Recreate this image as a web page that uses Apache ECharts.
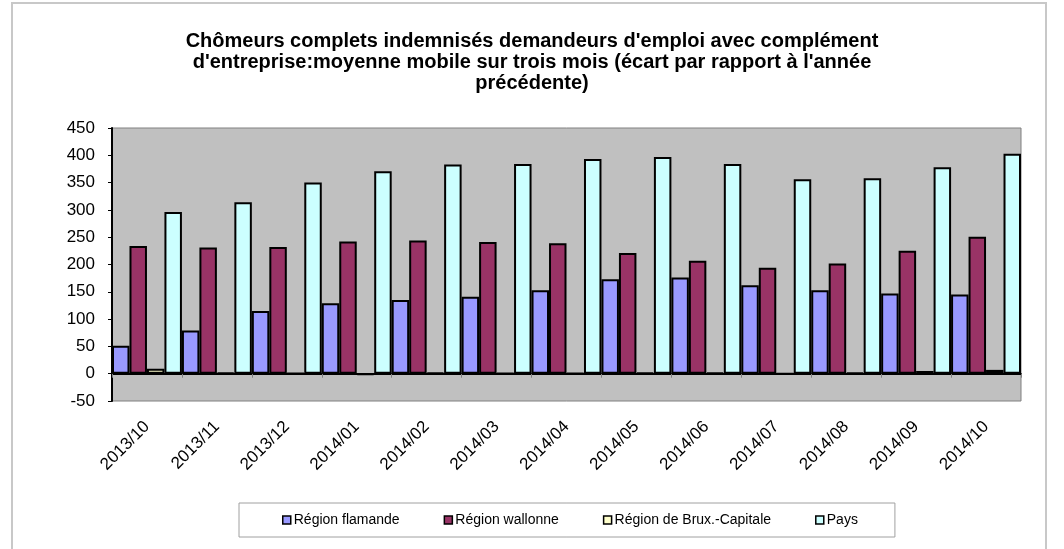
<!DOCTYPE html>
<html>
<head>
<meta charset="utf-8">
<script src="https://cdn.jsdelivr.net/npm/echarts@6/dist/echarts.min.js"></script>
<style>
  html, body { margin: 0; padding: 0; background: #fff; }
  #Chart { width: 1064px; height: 549px; }
</style>
</head>
<body>
<div id="Chart"></div>
<script>
// mois (axe horizontal)
const months = ['2013/10', '2013/11', '2013/12', '2014/01', '2014/02', '2014/03', '2014/04',
                '2014/05', '2014/06', '2014/07', '2014/08', '2014/09', '2014/10'];
// écart par rapport à l'année précédente
const flamande = [51, 79, 115, 129, 135, 141, 153, 173, 176, 162, 153, 147, 145];
const wallonne = [234, 231, 232, 242, 244, 241, 239, 221, 207, 194, 202, 225, 251];
const bruxelles = [9, 2, 1, -2, 2, 1, 1, 2, 2, -0.5, 2, 5, 7];
const pays = [296, 314, 350, 371, 383, 384, 393, 397, 384, 356, 358, 378, 403];
const seriesNames = ['Région flamande', 'Région wallonne', 'Région de Brux.-Capitale', 'Pays'];
const seriesColors = ['#9999FF', '#993366', '#FFFFCC', '#CCFFFF'];

const titleText = "Chômeurs complets indemnisés demandeurs d'emploi avec complément\n" +
                  "d'entreprise:moyenne mobile sur trois mois (écart par rapport à l'année\n" +
                  "précédente)";

let myChart = echarts.init(document.getElementById('Chart'));

function barSeries(i, data) {
    return {
        name: seriesNames[i],
        type: 'bar',
        xAxisIndex: 1,
        data: data,
        barGap: '0%',
        barCategoryGap: '0%',
        itemStyle: {
            color: seriesColors[i],
            borderColor: '#000',
            borderWidth: 2
        }
    };
}

myChart.setOption({
    animation: false,
    textStyle: { fontFamily: 'Liberation Sans, Arial, sans-serif' },
    graphic: [{
        type: 'rect',
        shape: { x: 12, y: 3, width: 1034, height: 600 },
        style: { fill: 'none', stroke: '#c8c8c8', lineWidth: 2 },
        silent: true
    }],
    title: {
        text: titleText,
        left: 'center',
        top: 26,
        textStyle: {
            fontSize: 20,
            fontWeight: 'bold',
            color: '#000',
            lineHeight: 21
        }
    },
    legend: {
        data: seriesNames,
        left: 239,
        top: 503,
        padding: [10, 37, 10, 43],
        itemGap: 44,
        itemWidth: 8,
        itemHeight: 8,
        icon: 'rect',
        borderColor: '#a0a0a0',
        borderWidth: 1,
        itemStyle: { borderColor: '#000', borderWidth: 1.5 },
        textStyle: { fontSize: 14, color: '#000', padding: [0, 0, 0, -2] }
    },
    grid: {
        left: 112,
        right: 43,
        top: 128,
        bottom: 148,
        show: true,
        backgroundColor: '#C0C0C0',
        borderColor: '#808080',
        borderWidth: 1
    },
    xAxis: [
        {
            // étiquettes en bas du graphique
            type: 'category',
            data: months,
            position: 'bottom',
            axisLine: { show: false, onZero: false },
            axisTick: { show: false },
            axisLabel: {
                rotate: 45,
                margin: 23,
                fontSize: 17,
                color: '#000'
            }
        },
        {
            // ligne du zéro
            type: 'category',
            data: months,
            position: 'bottom',
            axisLine: { show: true, onZero: true, lineStyle: { color: '#000', width: 2 } },
            axisTick: { show: true, length: 4, lineStyle: { color: '#808080' } },
            axisLabel: { show: false }
        }
    ],
    yAxis: {
        type: 'value',
        min: -50,
        max: 450,
        interval: 50,
        axisLine: { show: true, lineStyle: { color: '#000', width: 2 } },
        axisTick: { show: true, length: 4, lineStyle: { color: '#000' } },
        splitLine: { show: false },
        axisLabel: { fontSize: 17, color: '#000', margin: 17 }
    },
    series: [
        barSeries(0, flamande),
        barSeries(1, wallonne),
        barSeries(2, bruxelles),
        barSeries(3, pays)
    ]
});
</script>
</body>
</html>
